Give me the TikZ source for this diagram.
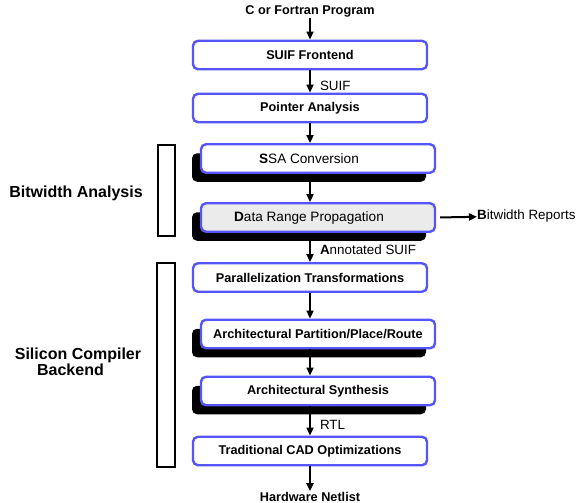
\documentclass[tikz,border=0pt]{standalone}
\usepackage{fontspec}
\setmainfont{Liberation Sans}
\usetikzlibrary{arrows.meta,shadows}
\definecolor{boxblue}{RGB}{85,85,250}
\definecolor{boxgray}{RGB}{235,235,235}

\begin{document}
\begin{tikzpicture}[x=1pt,y=-1pt,
    stage/.style={draw=boxblue, line width=2.4pt, rounded corners=5pt, fill=white,
        minimum width=234pt, minimum height=28.5pt, inner sep=0pt,
        font=\fontsize{12.7}{15}\selectfont\bfseries},
    plainstage/.style={stage, font=\fontsize{13.6}{16}\selectfont},
    shadowed/.style={drop shadow={shadow xshift=-9pt, shadow yshift=-9pt, fill=black, opacity=1}},
    bar/.style={draw, line width=2.4pt, fill=white, minimum width=17.5pt, inner sep=0pt},
    io/.style={font=\fontsize{12.7}{15}\selectfont\bfseries, inner sep=1pt},
    side/.style={font=\fontsize{16}{14}\selectfont\bfseries, align=center},
    lbl/.style={font=\fontsize{13.4}{16}\selectfont, anchor=west, xshift=9pt, inner sep=0pt},
    arr/.style={line width=2pt, -{Triangle[length=8pt,width=7pt]}}]
    \useasboundingbox (0,0) rectangle (576,503);

    % flow of the compiler
    \node [io] (prog) at (310,11) {C or Fortran Program};
    \node [stage] (front) at (310,55) {SUIF Frontend};
    \node [stage] (ptr) at (310,108) {Pointer Analysis};
    \node [plainstage, shadowed] (ssa) at (318,158.5) {\textbf{S}SA Conversion\hspace*{18pt}};
    \node [plainstage, shadowed, fill=boxgray] (drp) at (318,217.5) {\textbf{D}ata Range Propagation\hspace*{18pt}};
    \node [stage] (par) at (310,277.5) {Parallelization Transformations};
    \node [stage, shadowed] (apr) at (318,334) {Architectural Partition/Place/Route};
    \node [stage, shadowed] (syn) at (318,391) {Architectural Synthesis};
    \node [stage] (cad) at (310,451) {Traditional CAD Optimizations};
    \node [io] (net) at (310,497) {Hardware Netlist};
    \node [lbl, xshift=-9pt] (rep) at (477,216) {\textbf{B}itwidth Reports};

    \draw[arr] (prog) -- (front);
    \draw[arr] (front) -- (ptr) node[lbl, pos=0.68] {SUIF};
    \draw[arr] (ptr) -- (ptr |- ssa.north);
    \draw[arr] (ptr |- ssa.south) -- (ptr |- drp.north);
    \draw[arr] (ptr |- drp.south) -- (par) node[lbl, pos=0.58] {\textbf{A}nnotated SUIF};
    \draw[arr] (par) -- (par |- apr.north);
    \draw[arr] (par |- apr.south) -- (par |- syn.north);
    \draw[arr] (par |- syn.south) -- (cad) node[lbl, pos=0.63] {RTL};
    \draw[arr] (cad) -- (net);
    \draw[arr, shorten <=4pt] (drp.east) -- (rep);

    % the two phases
    \node [bar, minimum height=91pt] (bwbar) at (166.5,190.5) {};
    \node [bar, minimum height=204pt] (scbar) at (166,365) {};
    \node [side] (bwlbl) at (76,193) {Bitwidth Analysis};
    \node [side] (sclbl) at (78,362) {\textbf{S}ilicon Compiler\\Backend\hspace*{15pt}};
\end{tikzpicture}
\end{document}
